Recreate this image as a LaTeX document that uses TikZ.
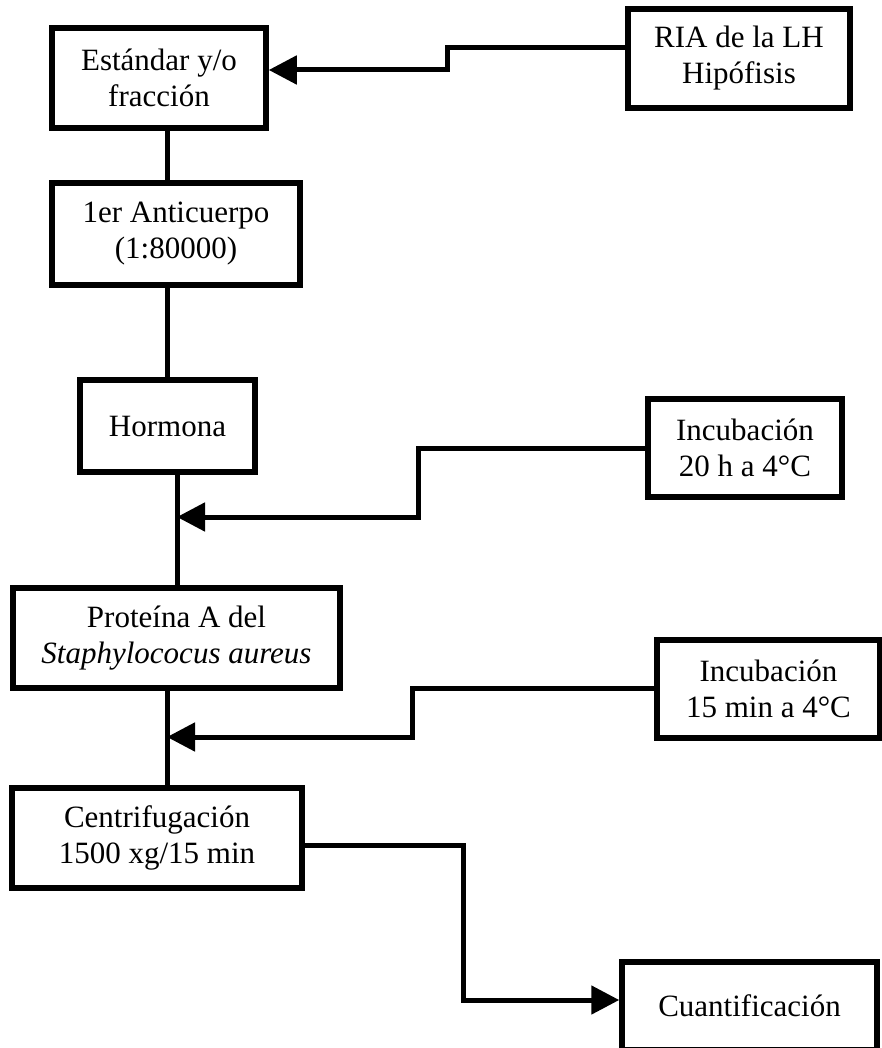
\documentclass[tikz,border=0pt]{standalone}
\usepackage{fontspec}
\setmainfont{Liberation Serif}
\usetikzlibrary{arrows.meta}
\begin{document}
\begin{tikzpicture}[x=1pt,y=-1pt,
  box/.style={draw,line width=5.5pt,inner sep=0pt,align=center,font=\fontsize{31}{36}\selectfont},
  conn/.style={line width=5pt},
  arr/.style={conn,-{Triangle[length=28pt,width=28pt]}}]
\useasboundingbox[fill=white] (0,0) rectangle (882,1048);
% boxes
\node[box,minimum width=214pt,minimum height=100pt] (est) at (159,78) {Estándar y/o\\fracción};
\node[box,minimum width=222pt,minimum height=99pt] (ria) at (739,58.5) {RIA de la LH\\Hipófisis};
\node[box,minimum width=248pt,minimum height=102pt] (anti) at (176,234) {1er Anticuerpo\\(1:80000)};
\node[box,minimum width=175pt,minimum height=92pt] (hor) at (167.5,426) {Hormona};
\node[box,minimum width=194pt,minimum height=98pt] (inc1) at (745,448) {Incubación\\20 h a 4°C};
\node[box,minimum width=327pt,minimum height=100pt] (prot) at (176.5,638) {Proteína A del\\\textit{Staphylococus aureus}};
\node[box,minimum width=223pt,minimum height=98pt] (inc2) at (768.5,689) {Incubación\\15 min a 4°C};
\node[box,minimum width=290pt,minimum height=100pt] (cen) at (157,838) {Centrifugación\\1500 xg/15 min};
\node[box,minimum width=255pt,minimum height=88pt] (cua) at (749.5,1006) {Cuantificación};
% helper coordinates
\coordinate (v1) at (167,0);
\coordinate (v2) at (177,0);
\coordinate (j1) at (447,48);
\coordinate (j2) at (447,70);
\coordinate (k1) at (418,448);
\coordinate (k2) at (418,517);
\coordinate (m1) at (412,688);
\coordinate (m2) at (412,737);
\coordinate (n1) at (463,845);
\coordinate (n2) at (463,1000);
% vertical chain
\draw[conn] (est.south -| v1) -- (anti.north -| v1);
\draw[conn] (anti.south -| v1) -- (hor.north -| v1);
\draw[conn] (hor.south -| v2) -- (prot.north -| v2);
\draw[conn] (prot.south -| v1) -- (cen.north -| v1);
% side arrows
\draw[arr] (ria.west |- j1) -- (j1) -- (j2) -- (est.east |- j2);
\draw[arr] (inc1.west |- k1) -- (k1) -- (k2) -- (v2 |- k2);
\draw[arr] (inc2.west |- m1) -- (m1) -- (m2) -- (v1 |- m2);
\draw[arr] (cen.east |- n1) -- (n1) -- (n2) -- (cua.west |- n2);
\end{tikzpicture}
\end{document}
